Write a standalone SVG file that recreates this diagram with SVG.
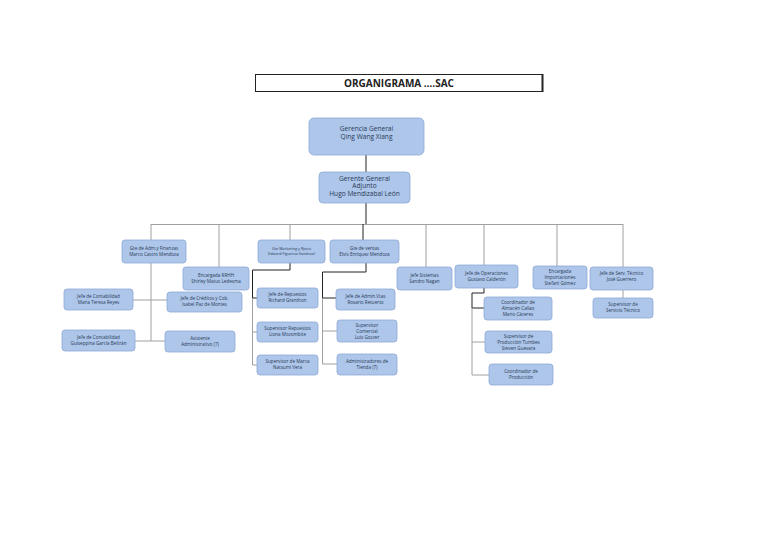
<svg xmlns="http://www.w3.org/2000/svg" width="768" height="543" viewBox="0 0 768 543">
<style>
.n rect{fill:#adc6ea;stroke:#8eaad6;stroke-width:0.8}
.n text{font-family:"Open Sans","Liberation Sans",sans-serif;font-size:4.6px;fill:#2a3a55;text-anchor:middle}
.big text{font-size:6.6px}
.sm text{font-size:3.8px}
.g{stroke:#a0a0a0;stroke-width:1;fill:none}
.k{stroke:#222;stroke-width:1;fill:none}
</style>
<rect width="768" height="543" fill="#fff"/>
<g id="title">
<rect x="255.5" y="74.5" width="287" height="17" fill="#fff" stroke="#222" stroke-width="1"/>
<line x1="542.5" y1="74" x2="542.5" y2="92" stroke="#222" stroke-width="2"/>
<text x="399" y="86.5" font-family="Open Sans,Liberation Sans,sans-serif" font-size="10" font-weight="bold" fill="#222" text-anchor="middle">ORGANIGRAMA ….SAC</text>
</g>
<g id="connectors">
<path class="k" d="M366 155V172M366 203V225"/>
<path class="g" d="M151 224.5H623M151 224V240M219 224V267M290 224V240M426 224V267M484 224V265M557 224V266M623 224V267"/>
<path class="k" d="M363 224V240"/>
<path class="g" d="M151 263V341M133 300H167M135 341H165"/>
<path class="k" d="M290 263V270H252.5V298H257"/>
<path class="g" d="M252.5 298V365M252.5 332H257M252.5 365H257"/>
<path class="k" d="M366 263V272H322.5V298H336"/>
<path class="g" d="M322.5 298V364M322.5 331H337M322.5 364H337"/>
<path class="k" d="M484 288V293H472V308H484"/>
<path class="g" d="M472 308V375M472 342H485M472 375H489"/>
<path class="g" d="M623 290V298"/>
</g>
<g id="gerencia" class="n big"><rect x="309" y="118" width="115" height="37" rx="5"/><text x="366.5" y="131">Gerencia General</text><text x="366.5" y="138.5">Qing Wang Xiang</text></g>
<g id="adjunto" class="n big"><rect x="319" y="172" width="91" height="31" rx="4"/><text x="364.5" y="180.5">Gerente General</text><text x="364.5" y="188">Adjunto</text><text x="364.5" y="195.5">Hugo Mendizabal León</text></g>
<g id="adm" class="n"><rect x="122" y="240" width="64" height="23" rx="3"/><text x="154" y="250">Gte de Adm.y Finanzas</text><text x="154" y="256">Marco Castro Mendoza</text></g>
<g id="rrhh" class="n"><rect x="183" y="267" width="66" height="23" rx="3"/><text x="216" y="277">Encargada RRHH</text><text x="216" y="283">Shirley Matus Ledesma</text></g>
<g id="mkt" class="n sm"><rect x="258" y="240" width="67" height="23" rx="3"/><text x="291.5" y="250">Gte Marketing y Rptos</text><text x="291.5" y="255">Edward Figueroa Sandoval</text></g>
<g id="ventas" class="n"><rect x="330" y="240" width="69" height="23" rx="3"/><text x="364.5" y="250">Gte de ventas</text><text x="364.5" y="256">Elvis Enriquez Mendoza</text></g>
<g id="sistemas" class="n"><rect x="397" y="267" width="55" height="23" rx="3"/><text x="424.5" y="277">Jefe Sistemas</text><text x="424.5" y="283">Sandro Nagan</text></g>
<g id="operaciones" class="n"><rect x="455" y="265" width="63" height="23" rx="3"/><text x="486.5" y="275">Jefe de Operaciones</text><text x="486.5" y="281">Gustavo Calderón</text></g>
<g id="importaciones" class="n"><rect x="533" y="266" width="54" height="23" rx="3"/><text x="560" y="273">Encargada</text><text x="560" y="279">Importaciones</text><text x="560" y="285">Stefani Gómez</text></g>
<g id="servtec" class="n"><rect x="590" y="267" width="63" height="23" rx="3"/><text x="621.5" y="275">Jefe de Serv. Técnico</text><text x="621.5" y="281">José Guerrero</text></g>
<g id="supserv" class="n"><rect x="593" y="298" width="60" height="20" rx="3"/><text x="623" y="306">Supervisor de</text><text x="623" y="312">Servicio Técnico</text></g>
<g id="conta1" class="n"><rect x="64" y="289" width="69" height="21" rx="3"/><text x="98.5" y="297.5">Jefe de Contabilidad</text><text x="98.5" y="303.5">Maria Teresa Reyes</text></g>
<g id="creditos" class="n"><rect x="167" y="292" width="75" height="20" rx="3"/><text x="204.5" y="300">Jefe de Créditos y Cob.</text><text x="204.5" y="306">Isabel Paz de Montes</text></g>
<g id="conta2" class="n"><rect x="62" y="330" width="73" height="21" rx="3"/><text x="98.5" y="338.5">Jefe de Contabilidad</text><text x="98.5" y="344.5">Guiseppina García Beltrán</text></g>
<g id="asistente" class="n"><rect x="165" y="331" width="70" height="21" rx="3"/><text x="200" y="339.5">Asistente</text><text x="200" y="345.5">Administrativo (7)</text></g>
<g id="repuestos" class="n"><rect x="257" y="288" width="61" height="20" rx="3"/><text x="287.5" y="296">Jefe de  Repuestos</text><text x="287.5" y="302">Richard Granthon</text></g>
<g id="suprep" class="n"><rect x="257" y="322" width="61" height="20" rx="3"/><text x="287.5" y="330">Supervisor Repuestos</text><text x="287.5" y="336">Liona Mozombite</text></g>
<g id="supmarca" class="n"><rect x="257" y="355" width="61" height="20" rx="3"/><text x="287.5" y="363">Supervisor de Marca</text><text x="287.5" y="369">Natsumi Vera</text></g>
<g id="adminvtas" class="n"><rect x="336" y="289" width="59" height="21" rx="3"/><text x="365.5" y="297.5">Jefe de  Admin.Vtas</text><text x="365.5" y="303.5">Rosario Retuerto</text></g>
<g id="supcom" class="n"><rect x="337" y="320" width="60" height="22" rx="3"/><text x="367" y="327">Supervisor</text><text x="367" y="333">Comercial</text><text x="367" y="339">Luis Gozzer</text></g>
<g id="tienda" class="n"><rect x="337" y="354" width="60" height="21" rx="3"/><text x="367" y="362.5">Administradores de</text><text x="367" y="368.5">Tienda (7)</text></g>
<g id="almacen" class="n"><rect x="484" y="297" width="68" height="23" rx="3"/><text x="518" y="304">Coordinador de</text><text x="518" y="310">Almacén Callao</text><text x="518" y="316">Mario Cáceres</text></g>
<g id="tumbes" class="n"><rect x="485" y="331" width="67" height="22" rx="3"/><text x="518.5" y="338">Supervisor de</text><text x="518.5" y="344">Producción Tumbes</text><text x="518.5" y="350">Steven Guevara</text></g>
<g id="coordprod" class="n"><rect x="489" y="364" width="64" height="21" rx="3"/><text x="521" y="372.5">Coordinador de</text><text x="521" y="378.5">Producción</text></g>
</svg>
